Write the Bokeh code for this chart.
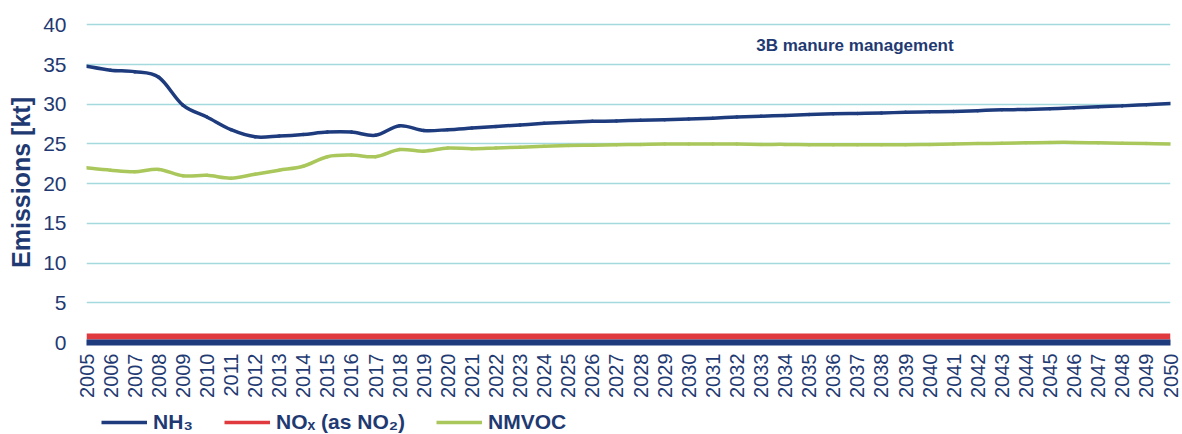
import math
import numpy as np
from bokeh.plotting import figure
from bokeh.layouts import column
from bokeh.models import Range1d, FixedTicker, Legend, LegendItem, Label
from bokeh.embed import file_html
from bokeh.resources import INLINE

years = [2005, 2006, 2007, 2008, 2009, 2010, 2011, 2012, 2013, 2014,
         2015, 2016, 2017, 2018, 2019, 2020, 2021, 2022, 2023, 2024,
         2025, 2026, 2027, 2028, 2029, 2030, 2031, 2032, 2033, 2034,
         2035, 2036, 2037, 2038, 2039, 2040, 2041, 2042, 2043, 2044,
         2045, 2046, 2047, 2048, 2049, 2050]

nh3 = [34.8, 34.3, 34.1, 33.4, 29.9, 28.4, 26.8, 25.9, 26.0, 26.2,
       26.5, 26.5, 26.1, 27.3, 26.7, 26.8, 27.0, 27.2, 27.4, 27.6,
       27.75, 27.85, 27.9, 28.0, 28.05, 28.15, 28.25, 28.4, 28.5, 28.6,
       28.7, 28.8, 28.85, 28.9, 29.0, 29.05, 29.1, 29.2, 29.3, 29.35,
       29.45, 29.55, 29.7, 29.8, 29.95, 30.1]

nox = [0.75, 0.75, 0.75, 0.75, 0.75, 0.75, 0.75, 0.75, 0.75, 0.75,
       0.75, 0.75, 0.75, 0.75, 0.75, 0.75, 0.75, 0.75, 0.75, 0.75,
       0.75, 0.75, 0.75, 0.75, 0.75, 0.75, 0.75, 0.75, 0.75, 0.75,
       0.75, 0.75, 0.75, 0.75, 0.75, 0.75, 0.75, 0.75, 0.75, 0.75,
       0.75, 0.75, 0.75, 0.75, 0.75, 0.75]

nmvoc = [22.0, 21.7, 21.5, 21.8, 21.0, 21.05, 20.7, 21.2, 21.7, 22.2,
         23.4, 23.6, 23.4, 24.3, 24.1, 24.5, 24.4, 24.5, 24.6, 24.7,
         24.8, 24.85, 24.9, 24.95, 25.0, 25.0, 25.0, 25.0, 24.95, 24.95,
         24.9, 24.9, 24.9, 24.9, 24.9, 24.95, 25.0, 25.05, 25.1, 25.15,
         25.2, 25.2, 25.15, 25.1, 25.05, 25.0]

y_ticks = [0, 5, 10, 15, 20, 25, 30, 35, 40]
series_names = ["NH₃", "NOₓ (as NO₂)", "NMVOC"]
title_text = "3B manure management"
y_title = "Emissions [kt]"

NAVY = "#1d3b7d"
RED = "#e0393e"
GREEN = "#a9c75a"
TEXT = "#1f3a72"
GRID = "#a4dadd"
FONT = "Liberation Sans"


def smooth_segments(xs, ys):
    """Control points of a smoothed (Catmull-Rom style) curve through the data."""
    x = np.asarray(xs, dtype=float)
    y = np.asarray(ys, dtype=float)
    xp = np.concatenate([[x[0]], x, [x[-1]]])
    yp = np.concatenate([[y[0]], y, [y[-1]]])
    x0, y0 = x[:-1], y[:-1]
    x1, y1 = x[1:], y[1:]
    cx0 = x0 + (xp[2:-1] - xp[:-3]) / 6.0
    cy0 = y0 + (yp[2:-1] - yp[:-3]) / 6.0
    cx1 = x1 - (xp[3:] - xp[1:-2]) / 6.0
    cy1 = y1 - (yp[3:] - yp[1:-2]) / 6.0
    return dict(x0=x0, y0=y0, x1=x1, y1=y1, cx0=cx0, cy0=cy0, cx1=cx1, cy1=cy1)


p = figure(width=1182, height=404, output_backend="svg", toolbar_location=None,
           x_range=Range1d(2005, 2050), y_range=Range1d(0, 40.3),
           min_border_left=86, min_border_right=12, min_border_top=22,
           min_border_bottom=62)
p.outline_line_color = None
p.background_fill_color = "white"

p.xgrid.visible = False
p.ygrid.ticker = FixedTicker(ticks=y_ticks)
p.ygrid.grid_line_color = GRID
p.ygrid.grid_line_width = 1.6

# axes
p.xaxis.ticker = FixedTicker(ticks=years)
p.xaxis.major_label_orientation = math.pi / 2
p.xaxis.axis_line_color = NAVY
p.xaxis.axis_line_width = 6
p.xaxis.major_tick_line_color = None
p.xaxis.minor_tick_line_color = None
p.xaxis.major_tick_out = 0
p.xaxis.major_tick_in = 0
p.xaxis.major_label_standoff = 11
p.xaxis.major_label_text_font = FONT
p.xaxis.major_label_text_font_size = "20px"
p.xaxis.major_label_text_color = TEXT

p.yaxis.ticker = FixedTicker(ticks=y_ticks)
p.yaxis.axis_line_color = None
p.yaxis.major_tick_line_color = None
p.yaxis.minor_tick_line_color = None
p.yaxis.major_tick_out = 0
p.yaxis.major_tick_in = 0
p.yaxis.major_label_standoff = 20
p.yaxis.major_label_text_font = FONT
p.yaxis.major_label_text_font_size = "21px"
p.yaxis.major_label_text_color = TEXT
p.yaxis.axis_label = y_title
p.yaxis.axis_label_text_font = FONT
p.yaxis.axis_label_text_font_size = "25px"
p.yaxis.axis_label_text_font_style = "bold"
p.yaxis.axis_label_text_color = TEXT
p.yaxis.axis_label_standoff = 5

# series (smoothed lines through the data points)
p.line(years, nox, line_color=RED, line_width=6)
p.bezier(line_color=GREEN, line_width=3.5, line_cap="round",
         **smooth_segments(years, nmvoc))
p.bezier(line_color=NAVY, line_width=3.5, line_cap="round",
         **smooth_segments(years, nh3))

p.add_layout(Label(x=2036.9, y=37.4, text=title_text, text_align="center",
                   text_baseline="middle", text_font=FONT,
                   text_font_size="17px", text_font_style="bold",
                   text_color=TEXT))

# legend strip below the chart (its frame is aligned with the chart's frame)
lg = figure(width=1182, height=30, output_backend="svg", toolbar_location=None,
            x_range=Range1d(0, 1), y_range=Range1d(0, 1),
            x_axis_location=None, y_axis_location=None,
            min_border_left=0, min_border_right=0, min_border_top=0,
            min_border_bottom=0)
lg.outline_line_color = None
lg.xgrid.visible = False
lg.ygrid.visible = False
# legend swatch renderers: the series themselves, lying outside this strip's ranges
l_nh3 = lg.line(years, nh3, line_color=NAVY, line_width=3.5)
l_nox = lg.line(years, nox, line_color=RED, line_width=3.5)
l_nmvoc = lg.line(years, nmvoc, line_color=GREEN, line_width=3.5)

legend = Legend(items=[LegendItem(label=series_names[0], renderers=[l_nh3]),
                       LegendItem(label=series_names[1], renderers=[l_nox]),
                       LegendItem(label=series_names[2], renderers=[l_nmvoc])],
                orientation="horizontal", location=(15, 0),
                glyph_width=46, glyph_height=20, label_standoff=6, spacing=31,
                padding=0, margin=0, border_line_color=None,
                background_fill_alpha=0,
                label_text_font=FONT, label_text_font_size="21px",
                label_text_font_style="bold", label_text_color=TEXT)
lg.add_layout(legend)

layout = column(p, lg, spacing=0)
open("out.html", "w").write(file_html(layout, INLINE))
